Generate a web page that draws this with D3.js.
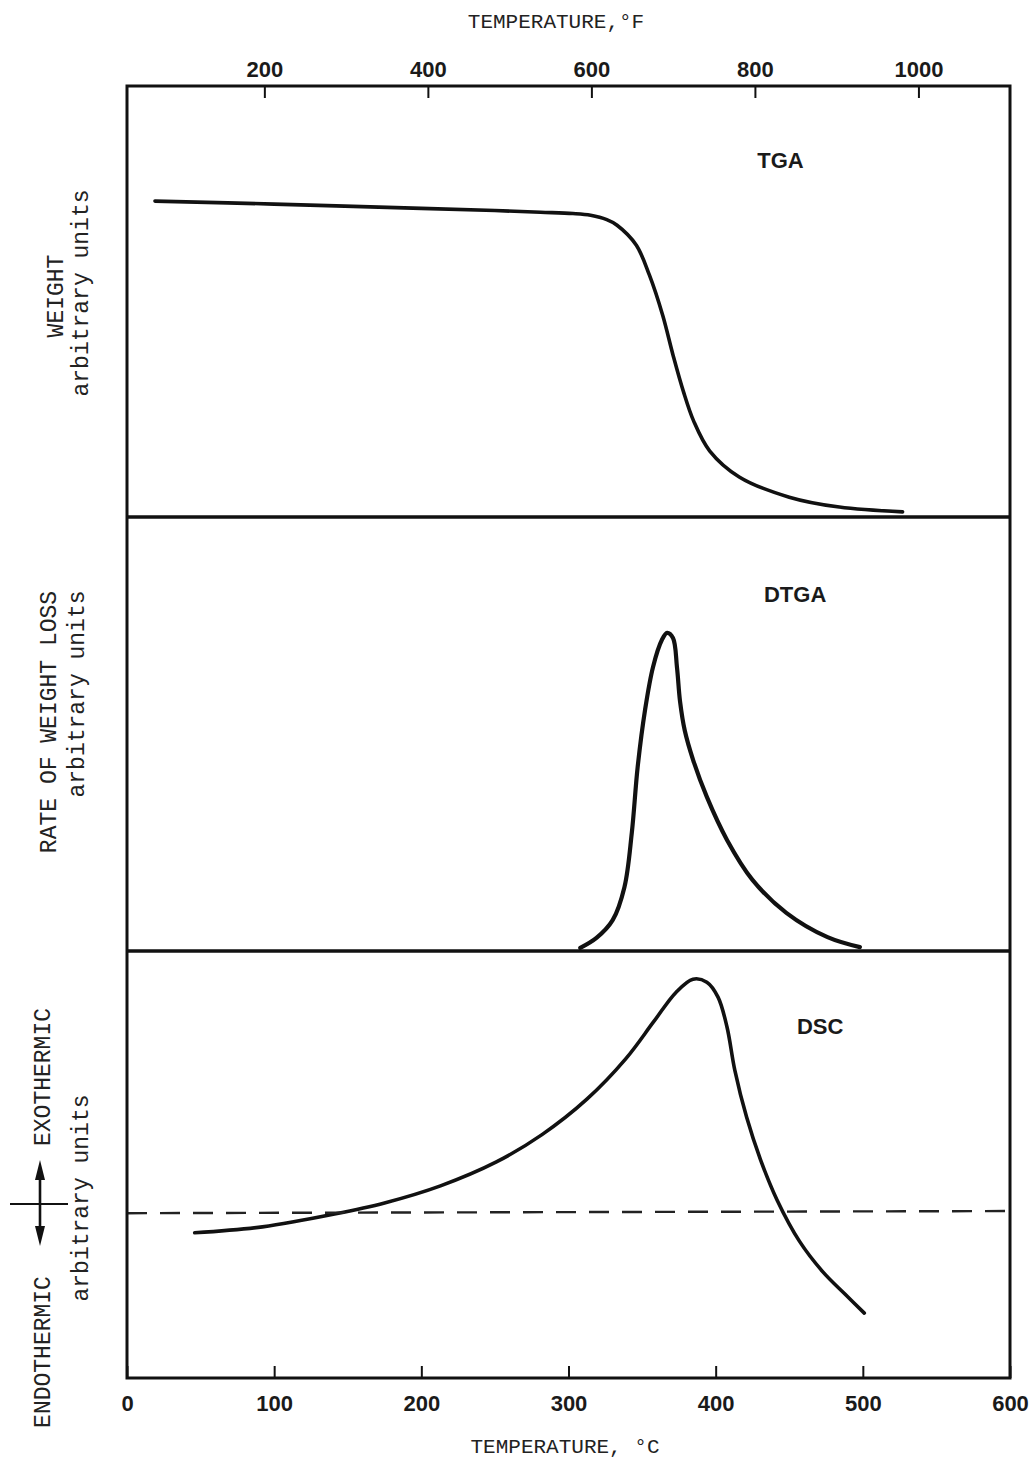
<!DOCTYPE html>
<html>
<head>
<meta charset="utf-8">
<script src="https://cdn.jsdelivr.net/npm/d3@7"></script>
<style>
  body { margin: 0; background: #fff; }
  .mono { font-family: "Liberation Mono", "DejaVu Sans Mono", monospace; fill: #222; }
  .lett { font-family: "Liberation Sans", Arial, sans-serif; font-weight: bold; fill: #1a1a1a; }
</style>
</head>
<body>
<svg id="chart"></svg>
<script>
// TGA - weight vs temperature (deg C)
var tgaTemp   = [19, 100, 200, 250, 281, 303, 315, 326, 333, 346, 355, 364, 371, 378, 385, 396, 416, 450, 484, 527];
var tgaWeight = [73.3, 72.6, 71.6, 71.1, 70.7, 70.4, 70.0, 69.0, 67.7, 63.1, 56.1, 46.8, 37.6, 29.2, 22.3, 15.3, 9.3, 4.6, 2.3, 1.2];

// DTGA - rate of weight loss
var dtgaTemp = [308, 319, 330, 338, 343, 347, 352, 357.4, 363.5, 367, 371, 373.7, 375.8, 379, 384.7, 394, 407.7, 425, 448, 476, 498];
var dtgaRate = [0.7, 3.0, 7.1, 14.7, 27.2, 42.4, 55.5, 65.4, 71.7, 73.3, 72.1, 65.4, 57.5, 50.8, 44.0, 35.5, 25.6, 16.4, 8.8, 3.2, 0.9];

// DSC - heat flow, plus the dashed baseline
var dscTemp = [46, 92, 141, 175, 213, 251, 282, 312.5, 339, 358, 373, 384.6, 394, 401.6, 407.7, 413, 421, 430.5, 441.7, 457, 473, 488, 501];
var dscHeat = [34.0, 35.4, 38.4, 41.0, 45.0, 50.6, 57.0, 65.3, 74.8, 83.5, 90.3, 93.4, 92.7, 89.2, 82.2, 72.1, 61.1, 51.1, 41.7, 32.0, 24.8, 19.6, 15.2];
var baseTemp = [0, 600];
var baseHeat = [38.6, 39.1];

// axis ticks
var celsiusTicks = [0, 100, 200, 300, 400, 500, 600];
var fahrenheitTicks = [200, 400, 600, 800, 1000];

// panel names + where the name sits (deg C, units)
var panelNames = ["TGA", "DTGA", "DSC"];
var nameTemp = [444, 454, 471];
var nameVal = [81, 80.5, 80.5];

var width = 1035, height = 1462;
var left = 127, right = 1010;
var panelY = [86, 517, 951, 1378];

var svg = d3.select('#chart')
    .attr('width', width)
    .attr('height', height);

svg.append('rect').attr('width', width).attr('height', height).attr('fill', '#fff');

var x = d3.scaleLinear().domain([0, 600]).range([left, right]);
// same span read in Fahrenheit
var xF = d3.scaleLinear().domain([0 * 1.8 + 32, 600 * 1.8 + 32]).range([left, right]);

var yScales = [0, 1, 2].map(function(i) {
    return d3.scaleLinear().domain([0, 100]).range([panelY[i + 1], panelY[i]]);
});

function zip(a, b) {
    return a.map(function(v, i) { return [v, b[i]]; });
}

// Curves
var series = [zip(tgaTemp, tgaWeight), zip(dtgaTemp, dtgaRate), zip(dscTemp, dscHeat)];
var widths = [3.6, 4.2, 3.6];

series.forEach(function(s, i) {
    var line = d3.line()
        .x(function(d) { return x(d[0]); })
        .y(function(d) { return yScales[i](d[1]); })
        .curve(d3.curveCatmullRom.alpha(0.5));
    svg.append('path')
        .datum(s)
        .attr('d', line)
        .attr('fill', 'none')
        .attr('stroke', '#111')
        .attr('stroke-width', widths[i])
        .attr('stroke-linecap', 'round')
        .attr('stroke-linejoin', 'round');
});

// DSC baseline
svg.append('path')
    .datum(zip(baseTemp, baseHeat))
    .attr('d', d3.line()
        .x(function(d) { return x(d[0]); })
        .y(function(d) { return yScales[2](d[1]); }))
    .attr('fill', 'none')
    .attr('stroke', '#222')
    .attr('stroke-width', 2.4)
    .attr('stroke-dasharray', '20,13');

// Frame + panel dividers
svg.append('rect')
    .attr('x', left).attr('y', panelY[0])
    .attr('width', right - left).attr('height', panelY[3] - panelY[0])
    .attr('fill', 'none').attr('stroke', '#111').attr('stroke-width', 3);

[panelY[1], panelY[2]].forEach(function(yy) {
    svg.append('line')
        .attr('x1', left).attr('x2', right)
        .attr('y1', yy).attr('y2', yy)
        .attr('stroke', '#111').attr('stroke-width', 3.4);
});

// Top axis (F)
var topAxis = svg.append('g')
    .attr('transform', 'translate(0,' + panelY[0] + ')')
    .call(d3.axisTop(xF).tickValues(fahrenheitTicks).tickFormat(d3.format('d'))
        .tickSize(-12).tickPadding(9));

// Bottom axis (C)
var botAxis = svg.append('g')
    .attr('transform', 'translate(0,' + panelY[3] + ')')
    .call(d3.axisBottom(x).tickValues(celsiusTicks).tickFormat(d3.format('d'))
        .tickSize(-12).tickPadding(17));

[topAxis, botAxis].forEach(function(g) {
    g.select('.domain').remove();
    g.selectAll('.tick line').attr('stroke', '#111').attr('stroke-width', 2);
    g.selectAll('.tick text')
        .attr('class', 'lett')
        .attr('fill', null)
        .style('font-size', '22px');
});

// Axis titles
svg.append('text')
    .attr('class', 'mono')
    .attr('x', 556).attr('y', 28)
    .attr('text-anchor', 'middle')
    .style('font-size', '21px')
    .text('TEMPERATURE,°F');

svg.append('text')
    .attr('class', 'mono')
    .attr('x', 565).attr('y', 1453)
    .attr('text-anchor', 'middle')
    .style('font-size', '21px')
    .text('TEMPERATURE, °C');

// Panel names
panelNames.forEach(function(n, i) {
    svg.append('text')
        .attr('class', 'lett')
        .attr('x', x(nameTemp[i]))
        .attr('y', yScales[i](nameVal[i]))
        .attr('text-anchor', 'middle')
        .style('font-size', '22px')
        .text(n);
});

// Rotated side labels
function sideLabel(txt, bx, cy, size) {
    svg.append('text')
        .attr('class', 'mono')
        .attr('transform', 'translate(' + bx + ',' + cy + ') rotate(-90)')
        .attr('text-anchor', 'middle')
        .style('font-size', size + 'px')
        .text(txt);
}

sideLabel('WEIGHT', 63, 296, 23);
sideLabel('arbitrary units', 88, 293, 23);
sideLabel('RATE OF WEIGHT LOSS', 56, 722, 23);
sideLabel('arbitrary units', 84, 694, 23);
sideLabel('EXOTHERMIC', 50, 1077, 23);
sideLabel('ENDOTHERMIC', 50, 1352, 23);
sideLabel('arbitrary units', 88, 1198, 23);

// Endo / exo arrow symbol
var arrow = svg.append('g').attr('stroke', '#111').attr('fill', '#111');
arrow.append('line')
    .attr('x1', 40).attr('x2', 40).attr('y1', 1168).attr('y2', 1238)
    .attr('stroke-width', 2.6);
arrow.append('line')
    .attr('x1', 10).attr('x2', 68).attr('y1', 1204).attr('y2', 1204)
    .attr('stroke-width', 2);
arrow.append('path').attr('d', 'M40,1160 L35,1180 L45,1180 Z').attr('stroke', 'none');
arrow.append('path').attr('d', 'M40,1246 L35,1226 L45,1226 Z').attr('stroke', 'none');
</script>
</body>
</html>
